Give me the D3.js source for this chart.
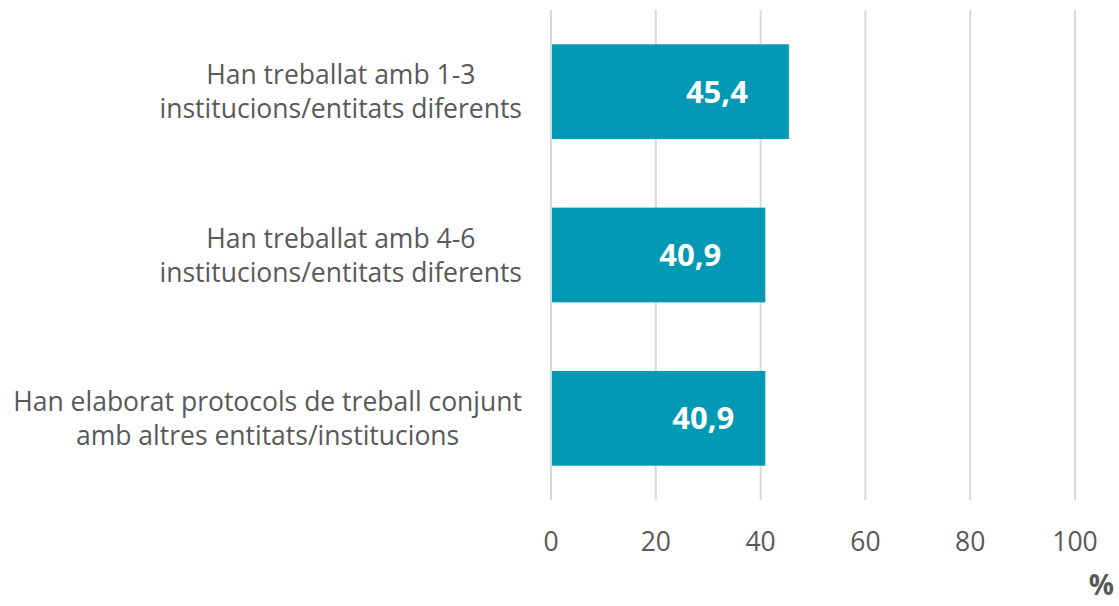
<!DOCTYPE html>
<html>
<head>
<meta charset="utf-8">
<script src="https://cdn.jsdelivr.net/npm/d3@7"></script>
<style>
  body { margin: 0; background: #fff; }
  svg text { font-family: "Open Sans", sans-serif; }
</style>
</head>
<body>
<div id="chart"></div>
<script>
// data
var categories = [
  ["Han treballat amb 1-3", "institucions/entitats diferents"],
  ["Han treballat amb 4-6", "institucions/entitats diferents"],
  ["Han elaborat protocols de treball conjunt", "amb altres entitats/institucions"]
];
var values = [45.4, 40.9, 40.9];
var labels = ["45,4", "40,9", "40,9"];
var xTicks = [0, 20, 40, 60, 80, 100];
// manual nudge of value labels from bar end (px), as in original
var labelGap = [41, 44, 31];

var width = 1119, height = 606;

var svg = d3.select("#chart").append("svg")
  .attr("width", width)
  .attr("height", height);

var x = d3.scaleLinear()
  .domain([0, 100])
  .range([551, 1075]);

var y = d3.scaleBand()
  .domain(d3.range(categories.length))
  .range([10, 500])
  .paddingInner(0.42)
  .paddingOuter(0.21);

// gridlines
svg.append("g").selectAll("line")
  .data(xTicks)
  .join("line")
  .attr("x1", d => x(d)).attr("x2", d => x(d))
  .attr("y1", 10).attr("y2", 500)
  .attr("stroke", "#d9d9d9")
  .attr("stroke-width", 2);

// bars
svg.append("g").selectAll("rect")
  .data(values)
  .join("rect")
  .attr("x", x(0) + 1)
  .attr("y", (d, i) => y(i))
  .attr("width", d => x(d) - x(0) - 1)
  .attr("height", y.bandwidth())
  .attr("fill", "#0199b4");

// value labels
svg.append("g").selectAll("text")
  .data(values)
  .join("text")
  .attr("x", (d, i) => x(d) - labelGap[i])
  .attr("y", (d, i) => y(i) + y.bandwidth() / 2)
  .attr("dy", "0.36em")
  .attr("text-anchor", "end")
  .attr("fill", "#fff")
  .attr("font-weight", "bold")
  .attr("font-size", 31)
  .text((d, i) => labels[i]);

// x axis labels
svg.append("g").selectAll("text")
  .data(xTicks)
  .join("text")
  .attr("x", d => x(d))
  .attr("y", 541)
  .attr("dy", "0.36em")
  .attr("text-anchor", "middle")
  .attr("fill", "#595959")
  .attr("font-size", 26.5)
  .text(d => d);

svg.append("text")
  .attr("x", 1114)
  .attr("y", 585)
  .attr("dy", "0.36em")
  .attr("text-anchor", "end")
  .attr("fill", "#595959")
  .attr("font-weight", "bold")
  .attr("font-size", 28)
  .text("%");

// category labels: centred block, right edge at 522
var catG = svg.append("g").selectAll("text")
  .data(categories)
  .join("text")
  .attr("fill", "#595959")
  .attr("font-size", 26.5)
  .attr("text-anchor", "middle");

catG.each(function(lines, i) {
  var t = d3.select(this);
  var cy = y(i) + y.bandwidth() / 2;
  lines.forEach(function(l, j) {
    t.append("tspan")
      .attr("y", cy + (j - (lines.length - 1) / 2) * 34)
      .attr("dy", "0.36em")
      .text(l);
  });
  var w = d3.max(t.selectAll("tspan").nodes(), n => n.getComputedTextLength());
  t.selectAll("tspan").attr("x", 522 - w / 2);
});
</script>
</body>
</html>
